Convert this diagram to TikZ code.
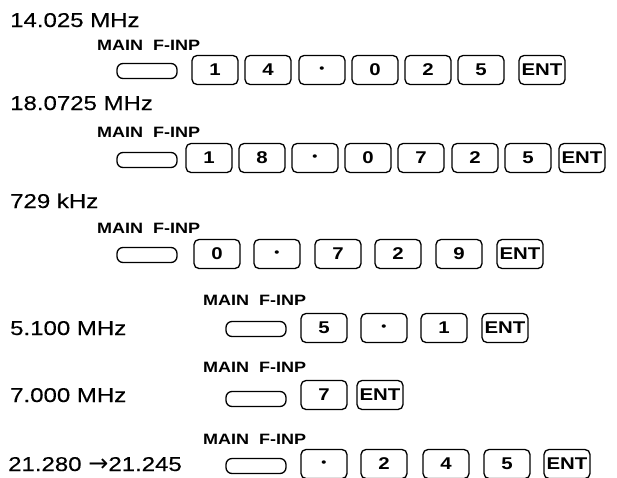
\documentclass[tikz,border=0pt]{standalone}
\usepackage{fontspec}
\setmainfont{Liberation Sans}
\newfontfamily\freqfont[FakeStretch=1.2,FakeBold=0.3]{Liberation Sans}
\newfontfamily\lblfont[FakeStretch=1.2]{Liberation Sans Bold}
\newfontfamily\arrowfont{DejaVu Sans}
\newcommand\kdot{{\fontsize{12}{12}\selectfont\textbullet}}
\tikzset{
  key/.style={draw, line width=1.3pt, rounded corners=5pt, minimum width=46pt,
    minimum height=29pt, inner sep=0pt, font=\fontsize{17}{17}\lblfont},
  entkey/.style={key, minimum width=46pt},
  longkey/.style={draw, line width=1.3pt, rounded corners=6pt, minimum width=60pt,
    minimum height=15pt, inner sep=0pt},
  freq/.style={anchor=base west, inner sep=0pt, font=\fontsize{20}{20}\freqfont},
  mainlbl/.style={anchor=base west, inner sep=0pt, font=\fontsize{15}{15}\lblfont}
}
\begin{document}
\begin{tikzpicture}[x=1pt,y=-1pt]
 \useasboundingbox (0,0) rectangle (617,477);
 \clip (0,0) rectangle (617,477);
 % 14.025 MHz
 \node[freq] (f1) at (10,27) {14.025 MHz};
 \node[mainlbl] (m1) at (97,50) {MAIN\ \ F-INP};
 \node[longkey] (l1) at (147,71) {};
 \foreach \x/\t [count=\i] in {215/1,268/4,322/\kdot,375/0,428/2,481/5}{
    \node[key] (r1k\i) at (\x,70) {\t};
 }
 \node[entkey] (e1) at (542,70) {ENT};
 % 18.0725 MHz
 \node[freq] (f2) at (10,110) {18.0725 MHz};
 \node[mainlbl] (m2) at (97,137) {MAIN\ \ F-INP};
 \node[longkey] (l2) at (147,160) {};
 \foreach \x/\t [count=\i] in {209/1,262/8,315/\kdot,368/0,421/7,475/2,528/5}{
    \node[key] (r2k\i) at (\x,158) {\t};
 }
 \node[entkey] (e2) at (582,158) {ENT};
 % 729 kHz
 \node[freq] (f3) at (10,208) {729 kHz};
 \node[mainlbl] (m3) at (97,233) {MAIN\ \ F-INP};
 \node[longkey] (l3) at (147,255) {};
 \foreach \x/\t [count=\i] in {217/0,277/\kdot,338/7,398/2,459/9}{
    \node[key] (r3k\i) at (\x,254) {\t};
 }
 \node[entkey] (e3) at (520,254) {ENT};
 % 5.100 MHz
 \node[freq] (f4) at (10,335) {5.100 MHz};
 \node[mainlbl] (m4) at (203,305) {MAIN\ \ F-INP};
 \node[longkey] (l4) at (256,329) {};
 \foreach \x/\t [count=\i] in {324/5,384/\kdot,444/1}{
    \node[key] (r4k\i) at (\x,328) {\t};
 }
 \node[entkey] (e4) at (505,328) {ENT};
 % 7.000 MHz
 \node[freq] (f5) at (10,402) {7.000 MHz};
 \node[mainlbl] (m5) at (203,372) {MAIN\ \ F-INP};
 \node[longkey] (l5) at (256,399) {};
 \node[key] (r5k1) at (324,395) {7};
 \node[entkey] (e5) at (380,395) {ENT};
 % 21.280 -> 21.245
 \node[freq] (f6) at (8,471) {21.280 {\arrowfont\fontsize{24}{24}\selectfont →}21.245};
 \node[mainlbl] (m6) at (203,444) {MAIN\ \ F-INP};
 \node[longkey] (l6) at (256,466) {};
 \foreach \x/\t [count=\i] in {324/\kdot,384/2,446/4,507/5}{
    \node[key] (r6k\i) at (\x,464) {\t};
 }
 \node[entkey] (e6) at (567,464) {ENT};
\end{tikzpicture}
\end{document}
